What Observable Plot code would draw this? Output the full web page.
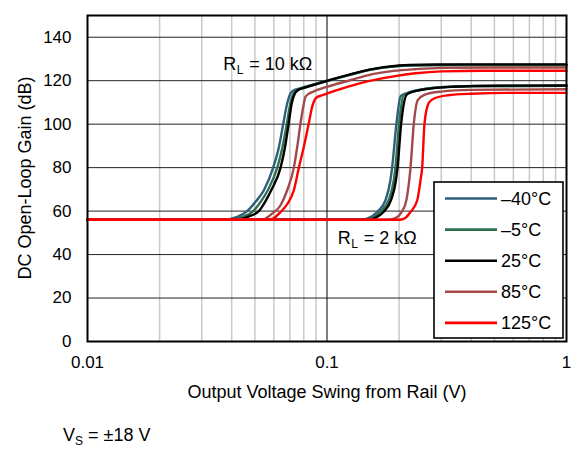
<!DOCTYPE html>
<html><head><meta charset="utf-8">
<script src="https://cdn.jsdelivr.net/npm/d3@7"></script>
<script src="https://cdn.jsdelivr.net/npm/@observablehq/plot@0.6"></script>
<style>
body{margin:0;background:#fff;font-family:"Liberation Sans",Arial,sans-serif;}
#wrap{position:relative;width:585px;height:449px;}
#cap{position:absolute;left:63px;top:424px;font-size:18px;line-height:22px;color:#000;white-space:nowrap;}
#cap sub{font-size:12px;vertical-align:-4px;line-height:0;}
</style></head><body>
<div id="wrap"><div id="chart"></div><div id="cap">V<sub>S</sub> = ±18 V</div></div>
<script>
const temps = ["–40°C", "–5°C", "25°C", "85°C", "125°C"];
const colors = ["#2E5F7B", "#2F7050", "#000000", "#A34949", "#FF0000"];
const xTicks = [0.01, 0.1, 1];
const xTickLabels = ["0.01", "0.1", "1"];
const yTicks = [0, 20, 40, 60, 80, 100, 120, 140];
const minorGrid = [0.02,0.03,0.04,0.05,0.06,0.07,0.08,0.09,0.2,0.3,0.4,0.5,0.6,0.7,0.8,0.9];
const majorGridX = [0.1];
const gridY = [20, 40, 60, 80, 100, 120, 140];
const xLabel = "Output Voltage Swing from Rail (V)";
const yLabel = "DC Open-Loop Gain (dB)";
const annotations = [
  {x: 0.0369, y: 124.9, load: "10 kΩ"},
  {x: 0.1109, y: 45.0, load: "2 kΩ"}
];

// R_L = 10 kΩ
const m40_10k = [[0.01,56],[0.037,56],[0.0422,57.3],[0.0464,60],[0.0505,64.5],[0.0545,69.6],[0.0596,80],[0.063,89.5],[0.0657,100.3],[0.0682,109.5],[0.0704,114.1],[0.0725,115.5],[0.077,116.5],[0.1,120],[0.125,122.8],[0.15,125],[0.2,126.8],[0.25,127.1],[0.4,127.2],[1,127.2]];
const m5_10k = [[0.01,56],[0.039,56],[0.0448,57.5],[0.0492,60],[0.053,64.5],[0.0566,69.6],[0.062,80],[0.0652,89.5],[0.068,100.3],[0.0703,109.5],[0.0722,113.8],[0.0745,115.4],[0.079,116.5],[0.1,119.8],[0.125,122.7],[0.15,124.9],[0.2,126.7],[0.25,127.1],[0.4,127.2],[1,127.2]];
const p25_10k = [[0.01,56],[0.041,56],[0.047,57.5],[0.0519,60],[0.0553,64.5],[0.0585,69.6],[0.064,80],[0.0668,89.5],[0.0692,100.3],[0.0712,109.5],[0.0735,114.2],[0.076,115.8],[0.082,117],[0.1,119.9],[0.125,122.9],[0.15,125.1],[0.2,127],[0.25,127.4],[0.4,127.5],[1,127.5]];
const p85_10k = [[0.01,56],[0.054,56],[0.0565,57.2],[0.059,58.8],[0.064,62.7],[0.0682,69.6],[0.0727,80],[0.0751,89.5],[0.0775,100.3],[0.0796,108],[0.0813,112.6],[0.0853,114.4],[0.09,115.5],[0.1,117.2],[0.125,120.2],[0.149,122.6],[0.19,124.5],[0.234,125.3],[0.3,125.9],[0.5,126.1],[1,126.1]];
const p125_10k = [[0.01,56],[0.056,56],[0.0595,56.6],[0.064,59.6],[0.0685,63.5],[0.0727,69.6],[0.0763,80],[0.08,89.5],[0.0839,100.3],[0.0867,108],[0.0904,112.3],[0.095,113.2],[0.1,114.1],[0.115,116.3],[0.13,118.1],[0.149,119.8],[0.19,122],[0.234,123.4],[0.3,124.3],[0.45,124.6],[1,124.6]];

// R_L = 2 kΩ
const m40_2k = [[0.01,56],[0.14,56],[0.147,56.5],[0.162,59.6],[0.1755,65],[0.184,74.2],[0.187,80],[0.195,100.3],[0.203,112.9],[0.216,114.3],[0.25,116],[0.3,117],[0.4,117.5],[1,117.6]];
const m5_2k = [[0.01,56],[0.145,56],[0.152,56.5],[0.167,59.6],[0.181,65],[0.19,74.2],[0.193,80],[0.2,100.3],[0.209,113.4],[0.222,114.5],[0.25,116],[0.3,117],[0.4,117.5],[1,117.6]];
const p25_2k = [[0.01,56],[0.15,56],[0.16,57],[0.172,59.6],[0.185,65],[0.194,74.2],[0.197,80],[0.204,100.3],[0.216,113.8],[0.2457,115.7],[0.3386,117.2],[0.5,117.7],[1,117.8]];
const p85_2k = [[0.01,56],[0.18,56],[0.19,56.5],[0.2,58],[0.205,59.6],[0.2145,65],[0.2205,74.2],[0.2232,80],[0.2304,100.3],[0.2393,111.1],[0.255,113.5],[0.3,115],[0.4,115.8],[1,116.1]];
const p125_2k = [[0.01,56],[0.2,56],[0.21,56.5],[0.2232,59.6],[0.2381,65],[0.2457,74.2],[0.2497,80],[0.2553,100.3],[0.2661,109.8],[0.28,111.8],[0.32,113.3],[0.4,114],[0.6,114.4],[1,114.4]];

const curves = [
  [m40_10k, m40_2k],
  [m5_10k, m5_2k],
  [p25_10k, p25_2k],
  [p85_10k, p85_2k],
  [p125_10k, p125_2k]
];

const lineMarks = [];
curves.forEach((pair, i) => {
  pair.forEach(data => {
    lineMarks.push(Plot.line(data, {x: d => d[0], y: d => d[1], stroke: colors[i], strokeWidth: 2.4, curve: "monotone-x"}));
  });
});

const FS = 18;
const plot = Plot.plot({
  width: 585,
  height: 410,
  marginLeft: 87,
  marginRight: 19,
  marginTop: 15,
  marginBottom: 69,
  style: {fontFamily: '"Liberation Sans", Arial, sans-serif', fontSize: "17px", color: "#000", background: "#fff", overflow: "visible"},
  x: {type: "log", domain: [0.01, 1], ticks: xTicks, tickFormat: d => xTickLabels[xTicks.indexOf(d)] ?? "", tickSize: 0, tickPadding: 14, label: null},
  y: {domain: [0, 150], ticks: yTicks, tickSize: 0, tickPadding: 16, label: null},
  marks: [
    Plot.ruleX(minorGrid, {stroke: "#c9c9c9", strokeWidth: 1.5}),
    Plot.ruleY(gridY, {stroke: "#222", strokeWidth: 1}),
    Plot.ruleX(majorGridX, {stroke: "#000", strokeWidth: 1}),
    ...lineMarks,
    Plot.frame({stroke: "#000", strokeWidth: 2}),
    Plot.text([xLabel], {frameAnchor: "bottom", dy: 51, lineAnchor: "middle", fontSize: FS, fill: "#000"}),
    Plot.text(annotations, {x: "x", y: "y", text: () => "R", textAnchor: "start", lineAnchor: "bottom", fontSize: FS, fill: "#000"}),
    Plot.text(annotations, {x: "x", y: "y", text: () => "L", textAnchor: "start", lineAnchor: "bottom", fontSize: 12, dx: 13.5, dy: 4, fill: "#000"}),
    Plot.text(annotations, {x: "x", y: "y", text: d => "= " + d.load, textAnchor: "start", lineAnchor: "bottom", fontSize: FS, dx: 26, fill: "#000"})
  ]
});
document.getElementById("chart").appendChild(plot);

const svg = d3.select(plot);
// Y axis title
svg.append("text")
  .attr("transform", "translate(24.5,178) rotate(-90)")
  .attr("text-anchor", "middle").attr("dy", "0.35em")
  .attr("font-size", FS).attr("fill", "#000").text(yLabel);

// Legend inside plot area, built from temps/colors
const lg = svg.append("g").attr("text-anchor", "start");
lg.append("rect").attr("x", 434).attr("y", 182).attr("width", 129).attr("height", 156)
  .attr("fill", "#fff").attr("stroke", "#000").attr("stroke-width", 1.6);
temps.forEach((t, i) => {
  const cy = 198.5 + i * 31.1;
  lg.append("line").attr("x1", 445).attr("x2", 497).attr("y1", cy).attr("y2", cy)
    .attr("stroke", colors[i]).attr("stroke-width", 2.6);
  lg.append("text").attr("x", 501).attr("y", cy).attr("dy", "0.35em")
    .attr("text-anchor", "start")
    .attr("font-size", FS).attr("fill", "#000").text(t);
});
</script>
</body></html>
